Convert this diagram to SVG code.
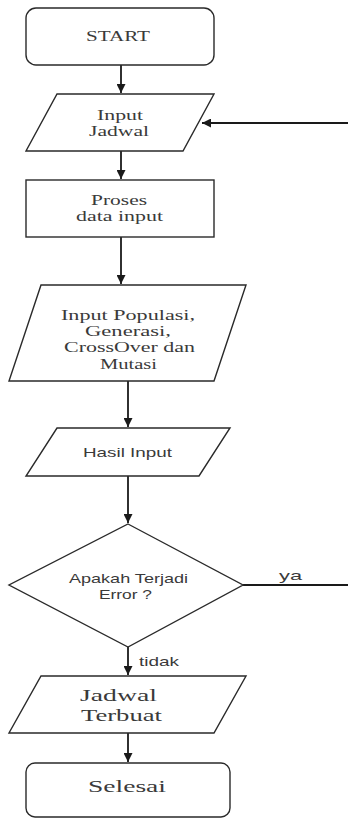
<svg xmlns="http://www.w3.org/2000/svg" width="348" height="818" viewBox="0 0 348 818">
<style>
.s{fill:#fff;stroke:#2a2a2a;stroke-width:1.4}
.c{fill:none;stroke:#1a1a1a;stroke-width:1.8}
.serif{font-family:"Liberation Serif","Times New Roman",serif;fill:#3a3a3a;text-anchor:middle;font-size:15px}
.big{font-size:17px}
.sans{font-family:"Liberation Sans",Arial,sans-serif;fill:#3a3a3a;text-anchor:middle;font-size:13px}
</style>
<defs>
<marker id="ah" viewBox="0 0 10 10" refX="10" refY="5" markerWidth="5" markerHeight="5" orient="auto" markerUnits="strokeWidth">
<path d="M0,0 L10,5 L0,10 z" fill="#1a1a1a"/>
</marker>
</defs>
<rect width="348" height="818" fill="#fff"/>
<g id="connectors">
<line class="c" x1="121" y1="65" x2="121" y2="93" marker-end="url(#ah)"/>
<line class="c" x1="121" y1="151" x2="121" y2="179" marker-end="url(#ah)"/>
<line class="c" x1="121" y1="237" x2="121" y2="284" marker-end="url(#ah)"/>
<line class="c" x1="128" y1="381" x2="128" y2="427" marker-end="url(#ah)"/>
<line class="c" x1="128" y1="476" x2="128" y2="523" marker-end="url(#ah)"/>
<line class="c" x1="128" y1="647" x2="128" y2="675" marker-end="url(#ah)"/>
<line class="c" x1="128" y1="733" x2="128" y2="762" marker-end="url(#ah)"/>
<line class="c" x1="348" y1="123" x2="202" y2="123" stroke-width="1.3" marker-end="url(#ah)"/>
<line class="c" x1="243" y1="585" x2="348" y2="585" stroke-width="1.3"/>
<text class="sans" x="290.5" y="580" textLength="23" lengthAdjust="spacingAndGlyphs">ya</text>
<text class="sans" x="159" y="666" textLength="40" lengthAdjust="spacingAndGlyphs">tidak</text>
</g>
<g id="start">
<rect class="s" x="26" y="8" width="188" height="57" rx="10"/>
<text class="serif" x="118" y="41" textLength="64" lengthAdjust="spacingAndGlyphs">START</text>
</g>
<g id="input-jadwal">
<polygon class="s" points="57,94 214,94 183,151 26,151"/>
<text class="serif" x="120" y="120" textLength="46" lengthAdjust="spacingAndGlyphs">Input</text>
<text class="serif" x="119" y="136" textLength="60" lengthAdjust="spacingAndGlyphs">Jadwal</text>
</g>
<g id="proses">
<rect class="s" x="26" y="180" width="188" height="57"/>
<text class="serif" x="119" y="205" textLength="56" lengthAdjust="spacingAndGlyphs">Proses</text>
<text class="serif" x="119.5" y="221" textLength="87" lengthAdjust="spacingAndGlyphs">data input</text>
</g>
<g id="input-populasi">
<polygon class="s" points="41,285 246,285 214,381 9,381"/>
<text class="serif" x="128" y="320" textLength="134" lengthAdjust="spacingAndGlyphs">Input Populasi,</text>
<text class="serif" x="128" y="336" textLength="86" lengthAdjust="spacingAndGlyphs">Generasi,</text>
<text class="serif" x="129.5" y="352" textLength="131" lengthAdjust="spacingAndGlyphs">CrossOver dan</text>
<text class="serif" x="128.5" y="369" textLength="57" lengthAdjust="spacingAndGlyphs">Mutasi</text>
</g>
<g id="hasil-input">
<polygon class="s" points="57,428 230,428 199,476 26,476"/>
<text class="sans" x="127.5" y="457" textLength="89" lengthAdjust="spacingAndGlyphs">Hasil Input</text>
</g>
<g id="decision">
<polygon class="s" points="128,524 243,585 128,647 9,585"/>
<text class="sans" x="128.5" y="583" textLength="119" lengthAdjust="spacingAndGlyphs">Apakah Terjadi</text>
<text class="sans" x="125.5" y="599" textLength="53" lengthAdjust="spacingAndGlyphs">Error ?</text>
</g>
<g id="jadwal-terbuat">
<polygon class="s" points="41,676 246,676 214,733 9,733"/>
<text class="serif big" x="118.5" y="701" textLength="77" lengthAdjust="spacingAndGlyphs">Jadwal</text>
<text class="serif big" x="121.5" y="721" textLength="81" lengthAdjust="spacingAndGlyphs">Terbuat</text>
</g>
<g id="selesai">
<rect class="s" x="26" y="763" width="204" height="54" rx="9"/>
<text class="serif big" x="127" y="792" textLength="78" lengthAdjust="spacingAndGlyphs">Selesai</text>
</g>
</svg>
